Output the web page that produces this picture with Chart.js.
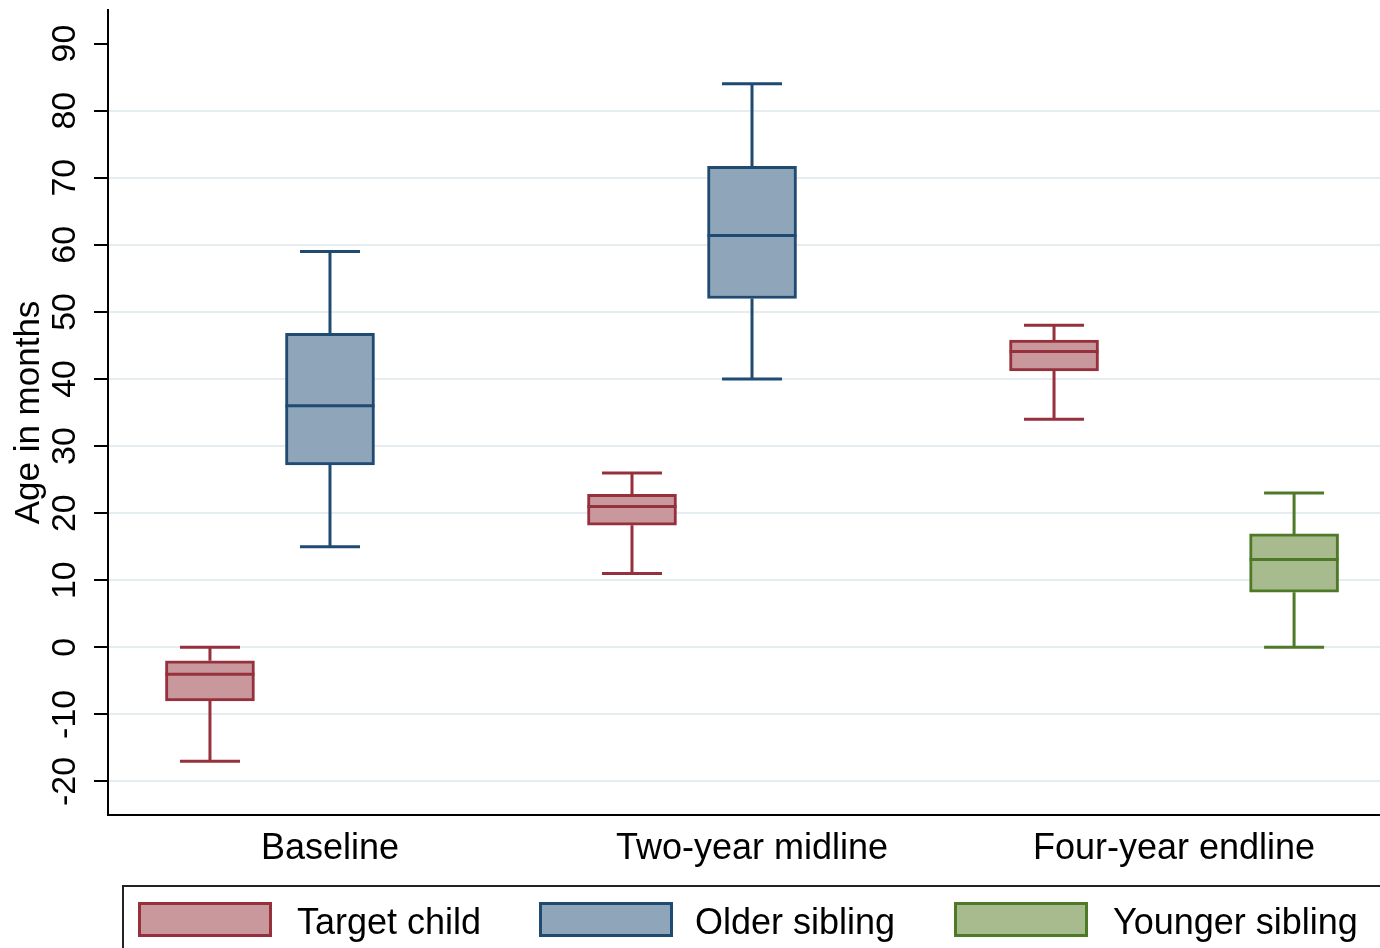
<!DOCTYPE html>
<html><head><meta charset="utf-8">
<script src="https://cdn.jsdelivr.net/npm/chart.js@4.4.1/dist/chart.umd.min.js"></script>
<style>html,body{margin:0;padding:0;background:#fff;overflow:hidden}</style>
</head><body>
<canvas id="c" width="1380" height="948"></canvas>
<script>
// ---- data ----
const categories = ['Baseline', 'Two-year midline', 'Four-year endline'];
const seriesNames = ['Target child', 'Older sibling', 'Younger sibling'];
const yTickValues = [-20, -10, 0, 10, 20, 30, 40, 50, 60, 70, 80, 90];

const targetMin = [-17, 11, 34];
const targetQ1  = [-8, 18.2, 41.2];
const targetMed = [-4, 21, 44.1];
const targetQ3  = [-2, 22.8, 45.8];
const targetMax = [0, 26, 48];

const olderMin = [15, 40, null];
const olderQ1  = [27.2, 52, null];
const olderMed = [36, 61.4, null];
const olderQ3  = [46.8, 71.7, null];
const olderMax = [59, 84, null];

const youngerMin = [null, null, 0];
const youngerQ1  = [null, null, 8.2];
const youngerMed = [null, null, 13.1];
const youngerQ3  = [null, null, 16.9];
const youngerMax = [null, null, 23];

// ---- styling ----
const FONT = '"Liberation Sans", Arial, Helvetica, sans-serif';
const styles = [
  {fill: '#c8989d', line: '#96303c'},
  {fill: '#8ea5ba', line: '#1f4a72'},
  {fill: '#a8bb8f', line: '#4e7a27'}
];
const series = [
  {name: seriesNames[0], min: targetMin, q1: targetQ1, med: targetMed, q3: targetQ3, max: targetMax},
  {name: seriesNames[1], min: olderMin, q1: olderQ1, med: olderMed, q3: olderQ3, max: olderMax},
  {name: seriesNames[2], min: youngerMin, q1: youngerQ1, med: youngerMed, q3: youngerQ3, max: youngerMax}
];
const SLOT = 0.2844;   // spacing between boxes within a group (axis units)
const CAP = 0.0711;    // half width of whisker caps
const HALF = 0.1055;   // half width of box (median line)

const datasets = [];
series.forEach((s, si) => {
  const xs = categories.map((c, g) => g + (si - 1) * SLOT);
  const boxes = [];
  const pts = [];
  categories.forEach((c, g) => {
    if (s.q1[g] == null) return;
    const x = xs[g];
    boxes.push({x: x, y: [s.q1[g], s.q3[g]]});
    const seg = (a, b) => { pts.push(a, b, {x: b.x, y: null}); };
    seg({x: x, y: s.min[g]}, {x: x, y: s.q1[g]});
    seg({x: x, y: s.q3[g]}, {x: x, y: s.max[g]});
    seg({x: x - CAP, y: s.min[g]}, {x: x + CAP, y: s.min[g]});
    seg({x: x - CAP, y: s.max[g]}, {x: x + CAP, y: s.max[g]});
    seg({x: x - HALF, y: s.med[g]}, {x: x + HALF, y: s.med[g]});
  });
  datasets.push({
    type: 'bar', label: s.name, data: boxes,
    backgroundColor: styles[si].fill, borderColor: styles[si].line,
    borderWidth: 3, borderSkipped: false, barThickness: 89, grouped: false, order: 2
  });
  datasets.push({
    type: 'line', label: s.name + ' whiskers', data: pts,
    borderColor: styles[si].line, borderWidth: 3, pointRadius: 0, spanGaps: false,
    tension: 0, fill: false, order: 1, borderCapStyle: 'butt'
  });
});

const stataLegend = {
  id: 'stataLegend',
  afterDraw(chart, args, o) {
    const ctx = chart.ctx;
    ctx.save();
    ctx.lineWidth = 2;
    ctx.strokeStyle = '#222';
    ctx.strokeRect(o.left, o.top, o.width, o.height);
    const bars = chart.data.datasets.filter(d => d.type === 'bar');
    ctx.font = '36px ' + FONT;
    ctx.textBaseline = 'alphabetic';
    ctx.textAlign = 'left';
    bars.forEach((d, i) => {
      const sx = o.swatchX[i];
      ctx.fillStyle = d.backgroundColor;
      ctx.fillRect(sx, o.swatchY, o.swatchW, o.swatchH);
      ctx.lineWidth = 3;
      ctx.strokeStyle = d.borderColor;
      ctx.strokeRect(sx + 1.5, o.swatchY + 1.5, o.swatchW - 3, o.swatchH - 3);
      ctx.fillStyle = '#000';
      ctx.fillText(d.label, o.textX[i], o.textY);
    });
    ctx.restore();
  }
};

Chart.defaults.font.family = FONT;
new Chart(document.getElementById('c'), {
  type: 'bar',
  data: {datasets: datasets},
  plugins: [stataLegend],
  options: {
    responsive: false,
    animation: false,
    devicePixelRatio: 1,
    layout: {padding: {top: 10, left: 0, right: 0, bottom: 73}},
    plugins: {
      legend: {display: false},
      tooltip: {enabled: false},
      stataLegend: {
        left: 123, top: 886, width: 1300, height: 100,
        swatchX: [138, 539, 954], swatchY: 902, swatchW: 134, swatchH: 35,
        textX: [297, 695, 1113], textY: 934
      }
    },
    events: [],
    scales: {
      x: {
        type: 'linear', min: -0.526, max: 2.488, offset: false,
        grid: {display: false, offset: false},
        border: {display: true, color: '#000', width: 2},
        afterBuildTicks: s => { s.ticks = categories.map((c, i) => ({value: i})); },
        ticks: {
          callback: (v, i) => categories[i],
          font: {size: 36}, color: '#000', padding: 4, maxRotation: 0, minRotation: 0, autoSkip: false
        },
        afterFit: s => { s.height = 60; s.paddingLeft = 0; s.paddingRight = 0; }
      },
      y: {
        type: 'linear', min: -25, max: 95,
        afterBuildTicks: s => { s.ticks = yTickValues.map(v => ({value: v})); },
        ticks: {
          callback: v => String(v),
          font: {size: 34}, color: '#000', minRotation: 90, maxRotation: 90,
          crossAlign: 'center', padding: 4, autoSkip: false
        },
        grid: {
          color: c => (c.tick && c.tick.value === 90) ? 'rgba(0,0,0,0)' : '#e6edf1',
          lineWidth: 2, tickColor: '#000', tickLength: 14, tickWidth: 2
        },
        border: {color: '#000', width: 2},
        title: {display: true, text: 'Age in months', font: {size: 35}, color: '#000', padding: {top: 8, bottom: 0}},
        afterFit: s => { s.width = 108; s.paddingTop = 0; s.paddingBottom = 0; }
      }
    }
  }
});
</script>
</body></html>
